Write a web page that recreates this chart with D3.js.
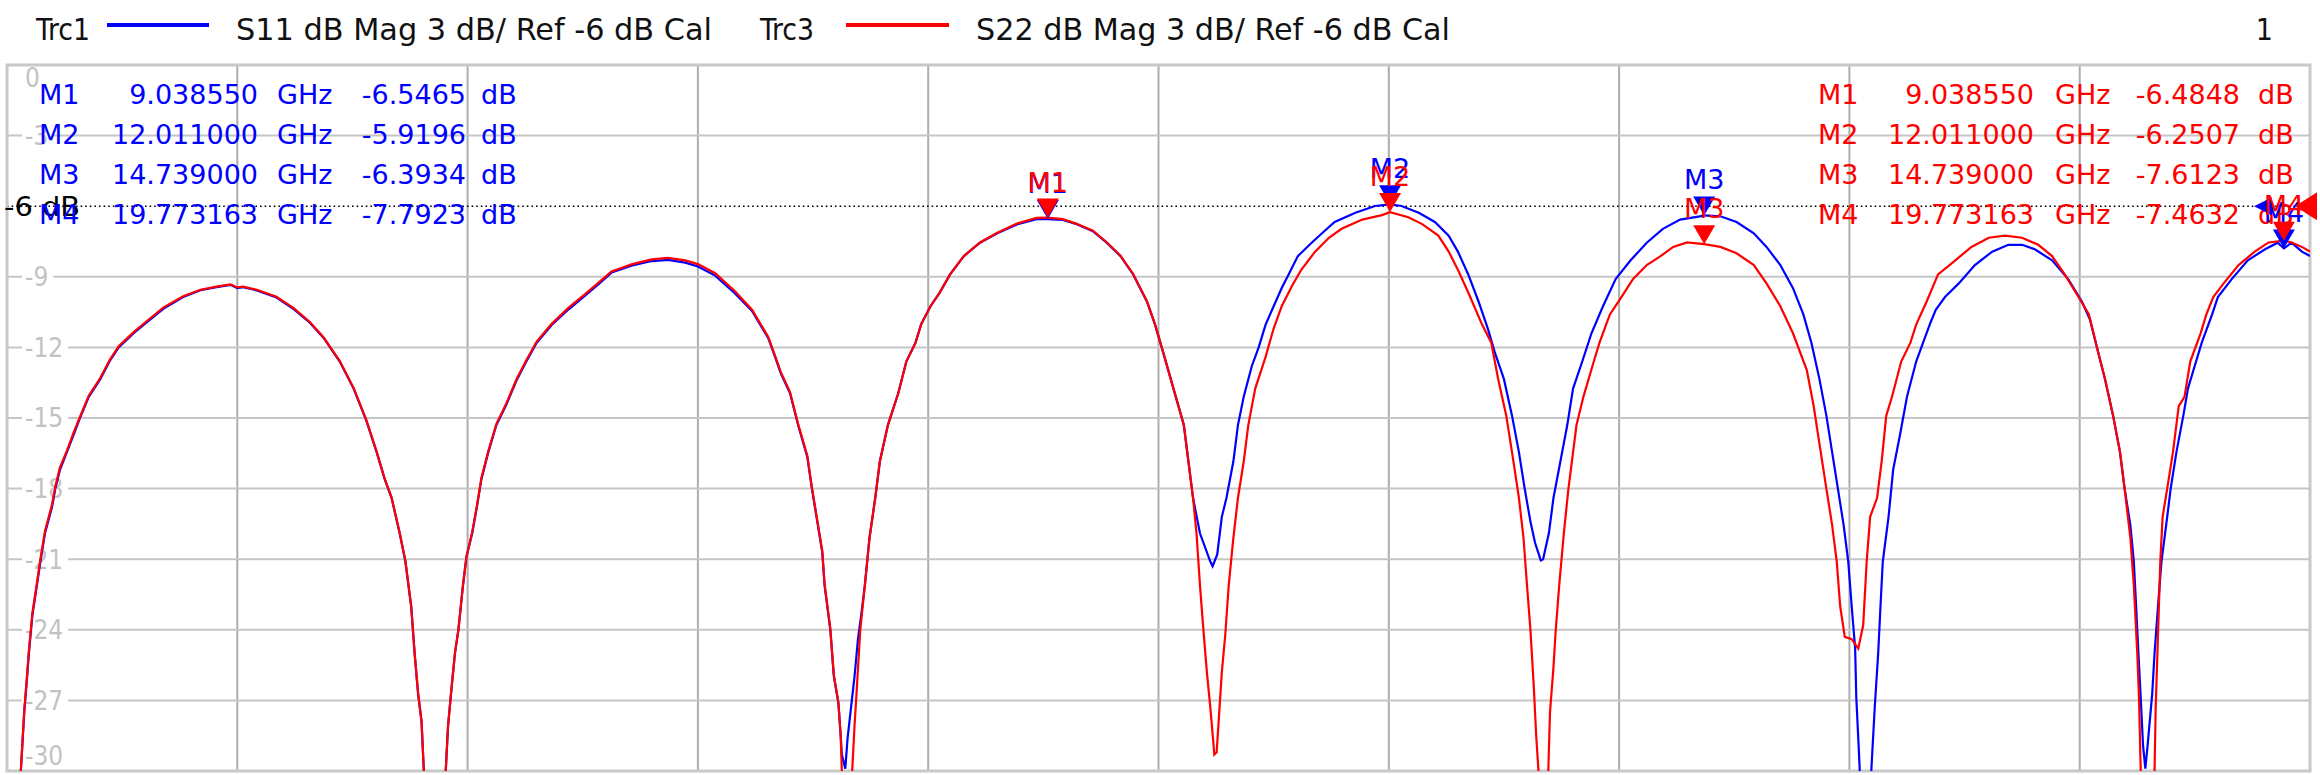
<!DOCTYPE html>
<html>
<head>
<meta charset="utf-8">
<script src="https://cdn.jsdelivr.net/npm/d3@7/dist/d3.min.js"></script>
<style>
  html, body { margin: 0; padding: 0; background: #fff; }
  svg { display: block; }
</style>
</head>
<body>
<svg id="area" width="2320" height="775"></svg>
<script>
// axis setup: 0..20 GHz, 0..-30 dB, ref -6 dB
const freqTicks = [0, 2, 4, 6, 8, 10, 12, 14, 16, 18, 20];
const dbTicks = [0, -3, -6, -9, -12, -15, -18, -21, -24, -27, -30];
const refLevel = -6;

// trace 1, S11 [GHz, dB]
const s11 = [
  [0.05,-38],[0.12,-30],[0.15,-27.5],[0.17,-26.3],[0.19,-25],[0.22,-23.4],[0.26,-22.1],[0.29,-21.1],[0.33,-19.9],
  [0.39,-18.8],[0.42,-18],[0.46,-17.2],[0.52,-16.45],[0.58,-15.7],[0.63,-15.05],[0.71,-14.1],[0.81,-13.35],
  [0.89,-12.6],[0.97,-12],[1.1,-11.4],[1.21,-10.95],[1.36,-10.35],[1.53,-9.86],[1.68,-9.57],[1.82,-9.44],
  [1.94,-9.34],[2.0,-9.48],[2.05,-9.44],[2.17,-9.58],[2.34,-9.88],[2.49,-10.37],[2.63,-10.95],[2.75,-11.6],
  [2.89,-12.6],[3.01,-13.75],[3.12,-15.1],[3.21,-16.45],[3.28,-17.6],[3.34,-18.4],[3.41,-19.9],[3.46,-21.1],
  [3.51,-23],[3.54,-25],[3.57,-26.7],[3.6,-27.9],[3.62,-30],[3.72,-38],[3.81,-30],[3.83,-28.1],[3.86,-26.5],
  [3.89,-25],[3.92,-24],[3.96,-22.1],[3.99,-20.9],[4.04,-19.9],[4.08,-18.8],[4.12,-17.6],[4.18,-16.45],
  [4.25,-15.3],[4.33,-14.5],[4.43,-13.35],[4.51,-12.6],[4.6,-11.8],[4.73,-11.05],[4.88,-10.37],[5.02,-9.8],
  [5.14,-9.3],[5.25,-8.82],[5.43,-8.52],[5.6,-8.33],[5.74,-8.28],[5.89,-8.4],[6.0,-8.56],[6.15,-8.95],
  [6.32,-9.7],[6.47,-10.45],[6.61,-11.6],[6.67,-12.4],[6.72,-13.1],[6.8,-13.95],[6.87,-15.3],[6.95,-16.65],
  [6.99,-18],[7.03,-19.2],[7.08,-20.7],[7.1,-22.1],[7.15,-24],[7.18,-25.95],[7.22,-27.1],[7.24,-28.5],
  [7.25,-29.3],[7.28,-29.9],[7.3,-28.6],[7.33,-27.3],[7.36,-26],[7.39,-24.4],[7.42,-23.3],[7.45,-22.1],
  [7.49,-20.1],[7.54,-18.4],[7.58,-16.85],[7.65,-15.3],[7.74,-13.95],[7.81,-12.6],[7.89,-11.8],[7.94,-11],
  [8.02,-10.25],[8.1,-9.67],[8.19,-8.9],[8.31,-8.12],[8.45,-7.55],[8.6,-7.15],[8.77,-6.78],[8.94,-6.55],
  [9.03855,-6.5465],[9.17,-6.58],[9.29,-6.77],[9.43,-7.06],[9.55,-7.55],[9.67,-8.12],[9.78,-8.9],[9.9,-10.06],
  [9.97,-11.03],[10.04,-12.2],[10.13,-13.75],[10.22,-15.3],[10.26,-16.85],[10.3,-18.4],[10.36,-19.9],
  [10.45,-21.1],[10.47,-21.3],[10.51,-20.8],[10.55,-19.2],[10.59,-18.4],[10.65,-16.85],[10.69,-15.3],
  [10.74,-14.1],[10.81,-12.8],[10.87,-12],[10.93,-11.03],[11.0,-10.25],[11.07,-9.48],[11.13,-8.9],
  [11.21,-8.12],[11.33,-7.55],[11.42,-7.15],[11.53,-6.67],[11.71,-6.28],[11.88,-5.99],[12.011,-5.9196],
  [12.11,-5.99],[12.26,-6.28],[12.4,-6.67],[12.52,-7.25],[12.6,-7.93],[12.69,-8.9],[12.78,-10.06],
  [12.86,-11.2],[12.92,-12.2],[13.0,-13.35],[13.07,-14.9],[13.13,-16.45],[13.18,-18],[13.23,-19.4],
  [13.27,-20.3],[13.32,-21.05],[13.34,-21],[13.39,-19.9],[13.43,-18.4],[13.49,-16.85],[13.55,-15.3],
  [13.6,-13.75],[13.68,-12.6],[13.76,-11.4],[13.86,-10.25],[13.97,-9.1],[14.1,-8.3],[14.24,-7.55],
  [14.38,-6.96],[14.53,-6.57],[14.7,-6.43],[14.739,-6.3934],[14.88,-6.43],[15.02,-6.67],[15.17,-7.15],
  [15.28,-7.73],[15.4,-8.5],[15.51,-9.48],[15.6,-10.6],[15.67,-11.8],[15.74,-13.35],[15.8,-14.9],
  [15.85,-16.45],[15.9,-18],[15.95,-19.55],[15.99,-21.1],[16.02,-23],[16.05,-24.8],[16.06,-26.9],
  [16.08,-28.9],[16.09,-30],[16.14,-36],[16.19,-30],[16.22,-27.3],[16.25,-25],[16.27,-23],[16.29,-21.1],
  [16.34,-19.2],[16.38,-17.2],[16.44,-15.7],[16.5,-14.1],[16.58,-12.6],[16.64,-11.8],[16.7,-11],
  [16.75,-10.4],[16.83,-9.86],[16.95,-9.28],[17.09,-8.5],[17.24,-7.93],[17.38,-7.64],[17.5,-7.64],
  [17.61,-7.83],[17.76,-8.3],[17.9,-9.1],[18.02,-10.06],[18.09,-10.83],[18.15,-12],[18.22,-13.35],
  [18.29,-14.9],[18.35,-16.45],[18.39,-18],[18.44,-19.55],[18.47,-21.1],[18.49,-23],[18.51,-25],
  [18.53,-26.9],[18.55,-28.9],[18.57,-29.9],[18.59,-28.9],[18.63,-26.7],[18.65,-25],[18.68,-23],
  [18.71,-21.1],[18.76,-19.2],[18.79,-18],[18.84,-16.45],[18.9,-14.9],[18.94,-13.75],[19.0,-12.77],
  [19.06,-11.8],[19.15,-10.6],[19.2,-9.86],[19.32,-9.1],[19.46,-8.3],[19.61,-7.83],[19.72,-7.55],
  [19.773163,-7.7923],[19.84,-7.55],[19.93,-7.93],[20,-8.12]
];

// trace 3, S22 [GHz, dB]
const s22 = [
  [0.05,-38],[0.12,-30],[0.15,-27.4],[0.17,-26.2],[0.19,-24.9],[0.22,-23.3],[0.26,-22],[0.29,-21],[0.33,-19.8],
  [0.39,-18.7],[0.42,-17.9],[0.46,-17.1],[0.52,-16.4],[0.58,-15.6],[0.63,-15],[0.71,-14.05],[0.81,-13.3],
  [0.89,-12.55],[0.97,-11.95],[1.1,-11.35],[1.21,-10.9],[1.36,-10.3],[1.53,-9.83],[1.68,-9.55],[1.82,-9.42],
  [1.94,-9.32],[2.0,-9.45],[2.05,-9.42],[2.17,-9.55],[2.34,-9.85],[2.49,-10.33],[2.63,-10.92],[2.75,-11.58],
  [2.89,-12.58],[3.01,-13.72],[3.12,-15.08],[3.21,-16.43],[3.28,-17.58],[3.34,-18.38],[3.41,-19.88],
  [3.46,-21.08],[3.51,-23],[3.54,-25],[3.57,-26.7],[3.6,-27.9],[3.62,-30],[3.72,-38],[3.81,-30],[3.83,-28.1],
  [3.86,-26.5],[3.89,-25],[3.92,-24],[3.96,-22.1],[3.99,-20.9],[4.04,-19.85],[4.08,-18.75],[4.12,-17.55],
  [4.18,-16.4],[4.25,-15.25],[4.33,-14.45],[4.43,-13.3],[4.51,-12.55],[4.6,-11.75],[4.73,-11],[4.88,-10.3],
  [5.02,-9.74],[5.14,-9.24],[5.25,-8.77],[5.43,-8.46],[5.6,-8.26],[5.74,-8.2],[5.89,-8.3],[6.0,-8.46],
  [6.15,-8.85],[6.32,-9.6],[6.47,-10.4],[6.61,-11.55],[6.67,-12.35],[6.72,-13.05],[6.8,-13.9],[6.87,-15.25],
  [6.95,-16.6],[6.99,-17.95],[7.03,-19.15],[7.08,-20.65],[7.1,-22.05],[7.15,-23.95],[7.18,-25.9],
  [7.22,-27.1],[7.24,-28.5],[7.25,-30],[7.29,-36],[7.34,-30],[7.36,-28.1],[7.38,-26.5],[7.41,-24],
  [7.45,-22.1],[7.49,-20.1],[7.54,-18.4],[7.58,-16.85],[7.65,-15.3],[7.74,-13.95],[7.81,-12.6],[7.89,-11.8],
  [7.94,-11],[8.02,-10.25],[8.1,-9.67],[8.19,-8.9],[8.31,-8.12],[8.45,-7.54],[8.6,-7.13],[8.77,-6.74],
  [8.94,-6.5],[9.03855,-6.4848],[9.17,-6.55],[9.29,-6.75],[9.43,-7.04],[9.55,-7.53],[9.67,-8.1],[9.78,-8.88],
  [9.9,-10.04],[9.97,-11.02],[10.04,-12.2],[10.13,-13.75],[10.22,-15.3],[10.26,-16.85],[10.3,-18.4],
  [10.33,-19.9],[10.36,-22.1],[10.39,-24],[10.42,-25.8],[10.45,-27.3],[10.485,-29.3],[10.505,-29.2],
  [10.525,-27.7],[10.55,-25.8],[10.58,-24.2],[10.61,-22.1],[10.65,-20.1],[10.69,-18.4],[10.74,-16.85],
  [10.78,-15.3],[10.84,-13.75],[10.93,-12.4],[11.0,-11.2],[11.07,-10.25],[11.16,-9.38],[11.24,-8.7],
  [11.36,-7.93],[11.48,-7.34],[11.59,-6.96],[11.77,-6.57],[11.94,-6.38],[12.011,-6.2507],[12.17,-6.47],
  [12.29,-6.76],[12.43,-7.25],[12.52,-7.93],[12.6,-8.7],[12.69,-9.67],[12.81,-11.03],[12.89,-11.8],
  [12.95,-13.35],[13.02,-14.9],[13.07,-16.45],[13.13,-18.4],[13.17,-20.1],[13.2,-22.1],[13.23,-24],
  [13.26,-26.5],[13.28,-28.5],[13.3,-30],[13.34,-36],[13.385,-30],[13.4,-27.5],[13.43,-25.6],[13.45,-24],
  [13.48,-22.1],[13.52,-19.9],[13.56,-18],[13.59,-16.85],[13.63,-15.3],[13.69,-14.1],[13.78,-12.6],
  [13.83,-11.8],[13.92,-10.6],[14.02,-9.86],[14.12,-9.1],[14.24,-8.5],[14.36,-8.12],[14.47,-7.73],
  [14.59,-7.54],[14.739,-7.6123],[14.88,-7.73],[15.02,-8],[15.17,-8.5],[15.28,-9.28],[15.4,-10.25],
  [15.51,-11.4],[15.63,-12.96],[15.69,-14.5],[15.74,-16.1],[15.8,-18],[15.85,-19.55],[15.89,-21.1],
  [15.92,-23],[15.96,-24.3],[16.02,-24.4],[16.077,-24.8],[16.12,-23.8],[16.15,-21.1],[16.18,-19.2],
  [16.24,-18.4],[16.28,-16.85],[16.32,-14.9],[16.37,-14.1],[16.45,-12.6],[16.53,-11.8],[16.58,-11.03],
  [16.67,-10.06],[16.77,-8.9],[16.92,-8.3],[17.06,-7.73],[17.21,-7.34],[17.35,-7.25],[17.5,-7.34],
  [17.64,-7.64],[17.76,-8.12],[17.87,-8.9],[17.99,-9.86],[18.08,-10.6],[18.15,-12],[18.22,-13.35],
  [18.29,-14.9],[18.35,-16.45],[18.39,-18],[18.44,-20.1],[18.47,-22.1],[18.5,-25],[18.515,-26.9],
  [18.53,-30],[18.59,-36],[18.65,-30],[18.66,-27.3],[18.68,-24.2],[18.7,-21.1],[18.72,-19.2],[18.76,-18],
  [18.81,-16.45],[18.86,-14.5],[18.91,-14.1],[18.96,-12.6],[19.05,-11.4],[19.1,-10.6],[19.16,-9.86],
  [19.25,-9.28],[19.38,-8.5],[19.52,-7.93],[19.64,-7.54],[19.773163,-7.4632],[19.84,-7.54],[19.93,-7.73],
  [20,-7.93]
];

// markers
const markerNames = ['M1', 'M2', 'M3', 'M4'];
const markerFreqs = [9.03855, 12.011, 14.739, 19.773163];
const s11Markers = [-6.5465, -5.9196, -6.3934, -7.7923];
const s22Markers = [-6.4848, -6.2507, -7.6123, -7.4632];

const blue = '#0000ff';
const red = '#ff0000';
const condensed = '"DejaVu Sans Condensed", "DejaVu Sans", sans-serif';
const wide = '"DejaVu Sans", Verdana, sans-serif';

const svg = d3.select('#area');

const x = d3.scaleLinear([0, 20], [7, 2310]);
const y = d3.scaleLinear([0, -30], [65, 771]);
const [plotLeft, plotRight] = x.range();
const [plotTop, plotBottom] = y.range();

svg.append('defs')
  .append('clipPath')
  .attr('id', 'plot')
  .append('rect')
  .attr('x', plotLeft)
  .attr('y', plotTop)
  .attr('width', plotRight - plotLeft)
  .attr('height', plotBottom - plotTop);

// grid
svg.append('g')
  .attr('stroke', '#adadad')
  .attr('stroke-width', 2)
  .selectAll('line')
  .data(freqTicks.slice(1, -1))
  .join('line')
  .attr('x1', (d) => x(d))
  .attr('x2', (d) => x(d))
  .attr('y1', plotTop)
  .attr('y2', plotBottom);

svg.append('g')
  .attr('stroke', '#c6c6c6')
  .attr('stroke-width', 2)
  .selectAll('line')
  .data(dbTicks.filter((d) => d !== 0 && d !== -30 && d !== refLevel))
  .join('line')
  .attr('x1', plotLeft)
  .attr('x2', plotRight)
  .attr('y1', (d) => y(d))
  .attr('y2', (d) => y(d));

// y labels, gray on white, kept inside the frame
const labels = svg.append('g')
  .selectAll('g')
  .data(dbTicks.filter((d) => d !== refLevel))
  .join('g')
  .attr('transform', (d) => `translate(0,${Math.min(Math.max(y(d), plotTop + 13), plotBottom - 15)})`);

labels.append('rect')
  .attr('fill', '#fff')
  .attr('y', -12)
  .attr('height', 24);

labels.append('text')
  .attr('x', 25)
  .attr('dy', '0.36em')
  .style('font', `26px ${condensed}`)
  .attr('fill', '#c2c2c2')
  .text((d) => String(d));

labels.each(function () {
  const g = d3.select(this);
  const w = g.select('text').node().getComputedTextLength();
  g.select('rect').attr('x', 22).attr('width', w + 8);
});

// reference line
svg.append('line')
  .attr('x1', plotLeft)
  .attr('x2', plotRight)
  .attr('y1', y(refLevel))
  .attr('y2', y(refLevel))
  .attr('stroke', '#000')
  .attr('stroke-width', 1.6)
  .attr('stroke-dasharray', '1.6 3');

// frame
svg.append('rect')
  .attr('x', plotLeft)
  .attr('y', plotTop)
  .attr('width', plotRight - plotLeft)
  .attr('height', plotBottom - plotTop)
  .attr('fill', 'none')
  .attr('stroke', '#c8c8c8')
  .attr('stroke-width', 3);

svg.append('text')
  .attr('x', 4)
  .attr('y', y(refLevel) + 10)
  .style('font', `27px ${condensed}`)
  .attr('fill', '#000')
  .attr('textLength', 76)
  .attr('lengthAdjust', 'spacingAndGlyphs')
  .text('-6 dB');

// traces
const line = d3.line()
  .x((d) => x(d[0]))
  .y((d) => y(d[1]));

const traces = svg.append('g').attr('clip-path', 'url(#plot)').attr('fill', 'none');
traces.append('path').datum(s11).attr('d', line).attr('stroke', blue).attr('stroke-width', 2.2);
traces.append('path').datum(s22).attr('d', line).attr('stroke', red).attr('stroke-width', 2.2);

// header
const head = svg.append('g')
  .style('font', `30px ${condensed}`)
  .style('white-space', 'pre')
  .attr('fill', '#111');
head.append('text').attr('x', 36).attr('y', 40)
  .attr('textLength', 54).attr('lengthAdjust', 'spacingAndGlyphs').text('Trc1');
head.append('line').attr('x1', 107).attr('x2', 209).attr('y1', 25).attr('y2', 25)
  .attr('stroke', blue).attr('stroke-width', 4);
head.append('text').attr('x', 236).attr('y', 40)
  .attr('textLength', 476).attr('lengthAdjust', 'spacingAndGlyphs')
  .text('S11  dB Mag  3 dB/ Ref -6 dB  Cal');
head.append('text').attr('x', 760).attr('y', 40)
  .attr('textLength', 54).attr('lengthAdjust', 'spacingAndGlyphs').text('Trc3');
head.append('line').attr('x1', 846).attr('x2', 949).attr('y1', 25).attr('y2', 25)
  .attr('stroke', red).attr('stroke-width', 4);
head.append('text').attr('x', 976).attr('y', 40)
  .attr('textLength', 474).attr('lengthAdjust', 'spacingAndGlyphs')
  .text('S22  dB Mag  3 dB/ Ref -6 dB  Cal');
head.append('text').attr('x', 2273).attr('y', 40).attr('text-anchor', 'end').text('1');

// marker tables
function markerTable(values, color, cols) {
  const rows = svg.append('g')
    .style('font', `27px ${wide}`)
    .attr('fill', color)
    .selectAll('g')
    .data(markerNames)
    .join('g')
    .attr('transform', (d, i) => `translate(0,${104 + i * 40})`);
  rows.append('text').attr('x', cols[0]).text((d) => d);
  rows.append('text').attr('x', cols[1]).attr('text-anchor', 'end')
    .text((d, i) => markerFreqs[i].toFixed(6));
  rows.append('text').attr('x', cols[2]).text('GHz');
  rows.append('text').attr('x', cols[3]).attr('text-anchor', 'end')
    .text((d, i) => values[i].toFixed(4));
  rows.append('text').attr('x', cols[4]).text('dB');
}
markerTable(s11Markers, blue, [39, 258, 277, 466, 481]);
markerTable(s22Markers, red, [1818, 2034, 2055, 2240, 2258]);

// reference-position arrows at the right edge
svg.append('path')
  .attr('d', d3.line()([[plotRight - 56, y(refLevel)], [plotRight - 38, y(refLevel) - 9], [plotRight - 38, y(refLevel) + 9]]))
  .attr('fill', blue);

// marker symbols on the traces
function markerSymbols(values, color) {
  const g = svg.append('g').attr('fill', color);
  g.selectAll('path')
    .data(markerFreqs)
    .join('path')
    .attr('d', (d, i) => {
      const px = x(d);
      const py = y(values[i]);
      return d3.line()([[px, py], [px - 11, py - 19], [px + 11, py - 19]]);
    });
  g.selectAll('text')
    .data(markerFreqs)
    .join('text')
    .attr('x', (d) => x(d))
    .attr('y', (d, i) => y(values[i]) - 26)
    .attr('text-anchor', 'middle')
    .style('font', `27px ${wide}`)
    .text((d, i) => markerNames[i]);
}
markerSymbols(s11Markers, blue);
markerSymbols(s22Markers, red);

svg.append('path')
  .attr('d', d3.line()([[plotRight - 15, y(refLevel)], [plotRight + 7, y(refLevel) - 14], [plotRight + 7, y(refLevel) + 14]]))
  .attr('fill', red);
</script>
</body>
</html>
